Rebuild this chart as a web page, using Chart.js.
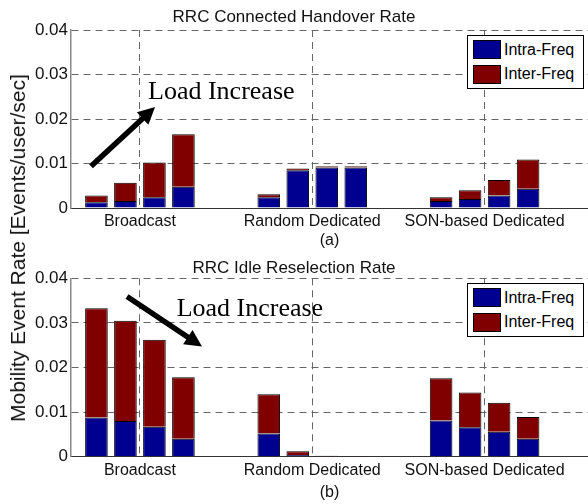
<!DOCTYPE html>
<html>
<head>
<meta charset="utf-8">
<script src="https://cdn.jsdelivr.net/npm/chart.js@4.4.1/dist/chart.umd.min.js"></script>
<style>
  body { margin: 0; background: #fff; font-family: "Liberation Sans", Arial, sans-serif; }
  #page { position: relative; width: 588px; height: 504px; overflow: hidden; background: #fff; }
  .panel { position: absolute; left: 0; width: 588px; height: 252px; }
  #ylabel {
    position: absolute; left: 18px; top: 248px;
    transform: translate(-50%, -50%) rotate(-90deg);
    white-space: nowrap; font-size: 21px; color: #111;
  }
  .legend {
    position: absolute; right: 4px; border: 1px solid #000; background: #fff;
    padding: 4px 4px 4px 5px; width: 106px;
  }
  .legend .row { display: flex; align-items: center; height: 19px; font-size: 16px; color: #000; }
  .legend .row + .row { margin-top: 5.5px; }
  .legend .sw { width: 26px; height: 17px; border: 1px solid #000; margin-right: 3px; flex: none; }
</style>
</head>
<body>
<div id="page">
  <div class="panel" style="top:0"><canvas id="rateA" width="588" height="252"></canvas></div>
  <div class="panel" style="top:252px"><canvas id="rateB" width="588" height="252"></canvas></div>
  <div id="ylabel">Mobility Event Rate [Events/user/sec]</div>
</div>
<script>
const groups = ['Broadcast', 'Random Dedicated', 'SON-based Dedicated'];
const seriesNames = ['Intra-Freq', 'Inter-Freq'];
const yTicks = [0, 0.01, 0.02, 0.03, 0.04];

// (a) connected handover rate, rows = groups, columns = load level 1..4
const hoIntra = [
  [0.0013, 0.0016, 0.0024, 0.0048],
  [0.0024, 0.0085, 0.0091, 0.0091],
  [0.0016, 0.0020, 0.0028, 0.0043]
];
const hoInter = [
  [0.0015, 0.0041, 0.0078, 0.0118],
  [0.0007, 0.0004, 0.0003, 0.0003],
  [0.0008, 0.0020, 0.0035, 0.0066]
];

// (b) idle reselection rate
const irIntra = [
  [0.0088, 0.0080, 0.0067, 0.0040],
  [0.0052, 0.0004, 0.0001, 0.00005],
  [0.0081, 0.0066, 0.0056, 0.0040]
];
const irInter = [
  [0.0245, 0.0225, 0.0195, 0.0138],
  [0.0088, 0.0008, 0.0001, 0.00005],
  [0.0095, 0.0078, 0.0065, 0.0049]
];

const BLUE = '#000090';
const RED = '#800000';
const SANS = '"Liberation Sans", Arial, sans-serif';

// arrow + "Load Increase" note, drawn in data units
const loadArrow = {
  id: 'loadArrow',
  afterDatasetsDraw(chart, args, o) {
    const x = chart.scales.x, y = chart.scales.y, ctx = chart.ctx;
    const x0 = x.getPixelForValue(o.from[0]), y0 = y.getPixelForValue(o.from[1]);
    const x1 = x.getPixelForValue(o.to[0]), y1 = y.getPixelForValue(o.to[1]);
    const ang = Math.atan2(y1 - y0, x1 - x0);
    const hl = 17, hw = 8.5;
    ctx.save();
    ctx.strokeStyle = '#000';
    ctx.fillStyle = '#000';
    ctx.lineWidth = 5.5;
    ctx.beginPath();
    ctx.moveTo(x0, y0);
    ctx.lineTo(x1 - Math.cos(ang) * (hl - 2), y1 - Math.sin(ang) * (hl - 2));
    ctx.stroke();
    ctx.beginPath();
    ctx.moveTo(x1, y1);
    ctx.lineTo(x1 - Math.cos(ang) * hl + Math.sin(ang) * hw, y1 - Math.sin(ang) * hl - Math.cos(ang) * hw);
    ctx.lineTo(x1 - Math.cos(ang) * hl - Math.sin(ang) * hw, y1 - Math.sin(ang) * hl + Math.cos(ang) * hw);
    ctx.closePath();
    ctx.fill();
    ctx.font = '26px "Liberation Serif", "Times New Roman", serif';
    ctx.textBaseline = 'middle';
    ctx.textAlign = 'left';
    ctx.fillText(o.label, x.getPixelForValue(o.labelAt[0]), y.getPixelForValue(o.labelAt[1]));
    ctx.restore();
  }
};

function makeDatasets(intra, inter) {
  const out = [];
  for (let k = 0; k < 4; k++) {
    out.push({
      label: seriesNames[0], stack: 'load' + k, backgroundColor: BLUE,
      data: groups.map((g, i) => ({ x: i + 1, y: intra[i][k] }))
    });
    out.push({
      label: seriesNames[1], stack: 'load' + k, backgroundColor: RED,
      data: groups.map((g, i) => ({ x: i + 1, y: inter[i][k] }))
    });
  }
  return out;
}

function makeChart(id, c) {
  const chart = new Chart(document.getElementById(id), {
    type: 'bar',
    data: { datasets: makeDatasets(c.intra, c.inter) },
    plugins: [loadArrow],
    options: {
      responsive: false,
      animation: false,
      layout: { padding: 0 },
      datasets: {
        bar: {
          categoryPercentage: 0.673,
          barPercentage: 0.78,
          borderColor: '#000',
          borderWidth: 1,
          borderSkipped: 'start'
        }
      },
      plugins: {
        legend: { display: false },
        tooltip: { enabled: false },
        title: {
          display: true, text: c.title, color: '#111',
          font: { family: SANS, size: 17, weight: 'normal' },
          padding: c.titlePad
        },
        loadArrow: c.arrow
      },
      scales: {
        x: {
          type: 'linear', min: 0.6, max: 3.6, offset: false,
          afterBuildTicks: s => { s.ticks = groups.map((g, i) => ({ value: i + 1 })); },
          afterFit: s => { s.height = c.xHeight; },
          ticks: {
            callback: v => groups[v - 1] || '',
            autoSkip: false, maxRotation: 0, padding: c.xPad,
            color: '#111', font: { family: SANS, size: 16 }
          },
          grid: { offset: false, color: '#666', lineWidth: 1, drawTicks: false },
          border: { color: '#333', width: 1, dash: [7, 5] },
          title: {
            display: true, text: c.sub, color: '#111',
            font: { family: SANS, size: 16 }, padding: { top: 0, bottom: 1.4 }
          }
        },
        y: {
          stacked: true, min: 0, max: 0.04,
          afterBuildTicks: s => { s.ticks = yTicks.map(v => ({ value: v })); },
          afterFit: s => { s.width = 71; },
          ticks: {
            callback: v => v === 0 ? '0' : v.toFixed(2),
            padding: 3, color: '#111', font: { family: SANS, size: 17 }
          },
          grid: {
            color: ctx => ctx.tick && ctx.tick.value === 0 ? 'rgba(0,0,0,0)' : '#666',
            lineWidth: 1, drawTicks: false
          },
          border: { color: '#888', width: 1.5, dash: [7, 5] }
        }
      }
    }
  });

  // legend box in the top right corner of the plot
  const lg = document.createElement('div');
  lg.className = 'legend';
  lg.style.top = (chart.chartArea.top + 5) + 'px';
  chart.data.datasets.slice(0, 2).forEach(ds => {
    const row = document.createElement('div');
    row.className = 'row';
    row.innerHTML = `<span class="sw" style="background:${ds.backgroundColor}"></span><span>${ds.label}</span>`;
    lg.appendChild(row);
  });
  chart.canvas.parentNode.appendChild(lg);
  return chart;
}

makeChart('rateA', {
  title: 'RRC Connected Handover Rate', sub: '(a)',
  intra: hoIntra, inter: hoInter,
  titlePad: { top: 6.8, bottom: 2.8 }, xHeight: 44, xPad: 4,
  arrow: { from: [0.716, 0.0094], to: [1.088, 0.0227], label: 'Load Increase', labelAt: [1.047, 0.0261] }
});

makeChart('rateB', {
  title: 'RRC Idle Reselection Rate', sub: '(b)',
  intra: irIntra, inter: irInter,
  titlePad: { top: 5.8, bottom: 0.1 }, xHeight: 47.3, xPad: 4.7,
  arrow: { from: [0.925, 0.0359], to: [1.360, 0.0247], label: 'Load Increase', labelAt: [1.213, 0.0331] }
});
</script>
</body>
</html>
